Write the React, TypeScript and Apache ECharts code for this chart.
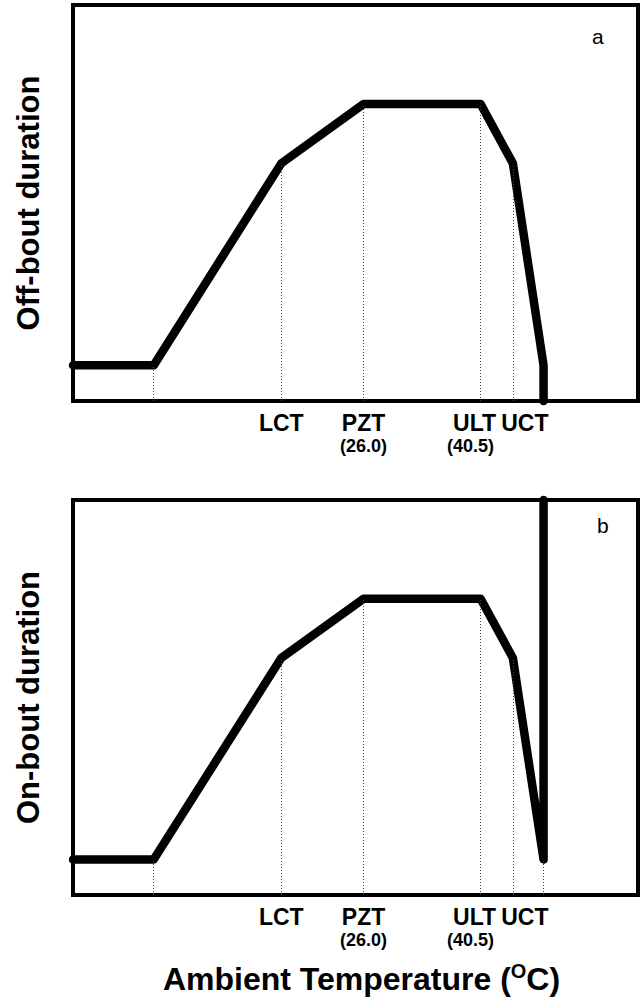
import React, { useEffect, useRef } from 'react';
import * as echarts from 'echarts';

// Threshold temperatures (°C) marked on the x axis
const tickValues = [15.8, 26.0, 40.5, 44.5];
const tickNames = ['LCT', 'PZT', 'ULT', 'UCT'];
const tickSubs = ['', '(26.0)', '(40.5)', ''];

// Panel a: off-bout duration (relative units) vs ambient temperature
const offBoutTemp = [-10, 0, 15.8, 26.0, 40.5, 44.5, 48.3, 48.3];
const offBoutDur = [9, 9, 60, 75, 75, 60, 9, 0];

// Panel b: on-bout duration (relative units) vs ambient temperature
const onBoutTemp = [-10, 0, 15.8, 26.0, 40.5, 44.5, 48.3, 48.3];
const onBoutDur = [9, 9, 60, 75, 75, 60, 9, 100];

// Dotted drop lines from the x axis to the curve
const offDropTemp = [0, 15.8, 26.0, 40.5, 44.5];
const offDropDur = [9, 60, 75, 75, 60];
const onDropTemp = [0, 15.8, 26.0, 40.5, 44.5, 48.3];
const onDropDur = [9, 60, 75, 75, 60, 9];

const FONT = '"Liberation Sans", Arial, Helvetica, sans-serif';

// ULT and UCT labels sit close together; list UCT first so that ECharts'
// first/last-label overlap check never compares these two neighbours.
const labelValues = [tickValues[3], tickValues[0], tickValues[1], tickValues[2]];

// rich-text style keys per tick (name line, sub line)
const nameStyleKeys = ['n', 'n', 'nl', 'nr'];
const subStyleKeys = ['v', 'v', 'vl', 'v'];

function labelFormatter(val: number): string {
  const i = tickValues.findIndex((t) => Math.abs(t - val) < 1e-6);
  if (i < 0) return '';
  const ns = nameStyleKeys[i];
  const ss = subStyleKeys[i];
  return tickSubs[i]
    ? `{${ns}|${tickNames[i]}}\n{${ss}|${tickSubs[i]}}`
    : `{${ns}|${tickNames[i]}}`;
}

const nameBase = { fontSize: 23, fontWeight: 'bold', fontFamily: FONT, color: '#000', lineHeight: 24 };
const subBase = { fontSize: 18, fontWeight: 'bold', fontFamily: FONT, color: '#000', lineHeight: 22 };
const labelRich = {
  n: { ...nameBase },
  nl: { ...nameBase, padding: [0, 12, 0, 0] },
  nr: { ...nameBase, padding: [0, 0, 0, 24] },
  v: { ...subBase },
  vl: { ...subBase, padding: [0, 20, 0, 0] },
};

function makeXAxis(gridIndex: number, withTitle: boolean) {
  const ax: any = {
    gridIndex,
    type: 'value',
    min: -10,
    max: 60,
    axisLine: { show: false },
    axisTick: { show: false },
    splitLine: { show: false },
    axisLabel: {
      customValues: labelValues,
      interval: 0,
      hideOverlap: false,
      showMinLabel: true,
      showMaxLabel: true,
      margin: 10,
      formatter: labelFormatter,
      rich: labelRich,
    },
  };
  if (withTitle) {
    ax.name = '{a|Ambient Temperature (}{s|O}{a|C)}';
    ax.nameLocation = 'middle';
    ax.nameGap = 66;
    ax.nameTextStyle = {
      padding: [0, 0, 0, 12],
      rich: {
        a: { fontSize: 32, fontWeight: 'bold', fontFamily: FONT, color: '#000', lineHeight: 36 },
        s: { fontSize: 20, fontWeight: 'bold', fontFamily: FONT, color: '#000', verticalAlign: 'top', lineHeight: 18 },
      },
    };
  }
  return ax;
}

function makeYAxis(gridIndex: number, name: string) {
  return {
    gridIndex,
    type: 'value',
    min: 0,
    max: 100,
    axisLine: { show: false },
    axisTick: { show: false },
    splitLine: { show: false },
    axisLabel: { show: false },
    name,
    nameLocation: 'middle',
    nameGap: 29,
    nameTextStyle: { fontSize: 31, fontWeight: 'bold', fontFamily: FONT, color: '#000' },
  };
}

function makeSeries(idx: number, xs: number[], ys: number[], dx: number[], dy: number[]) {
  return {
    type: 'line',
    xAxisIndex: idx,
    yAxisIndex: idx,
    data: xs.map((x, k) => [x, ys[k]]),
    symbol: 'none',
    showSymbol: false,
    clip: false,
    lineStyle: { color: '#000', width: 8.5, cap: 'round', join: 'round' },
    markLine: {
      silent: true,
      symbol: ['none', 'none'],
      label: { show: false },
      lineStyle: { color: '#444', width: 1, type: [1, 2] },
      data: dx.map((x, k) => [{ coord: [x, 0] }, { coord: [x, dy[k]] }]),
    },
    z: 3,
  };
}

export default function App() {
  const ref = useRef<HTMLDivElement>(null);
  useEffect(() => {
    if (!ref.current) return;
    const chart = echarts.init(ref.current, null, { renderer: 'svg' });
    const gridBase = {
      left: 73,
      right: 3,
      show: true,
      borderColor: '#000',
      borderWidth: 4,
      backgroundColor: 'transparent',
      containLabel: false,
      outerBoundsMode: 'none',
    };
    chart.setOption({
      animation: false,
      backgroundColor: '#fff',
      textStyle: { fontFamily: FONT },
      grid: [
        { ...gridBase, top: 5, height: 396 },
        { ...gridBase, top: 500, height: 395 },
      ],
      xAxis: [makeXAxis(0, false), makeXAxis(1, true)],
      yAxis: [makeYAxis(0, 'Off-bout duration'), makeYAxis(1, 'On-bout duration')],
      series: [
        makeSeries(0, offBoutTemp, offBoutDur, offDropTemp, offDropDur),
        makeSeries(1, onBoutTemp, onBoutDur, onDropTemp, onDropDur),
      ],
      graphic: [
        { type: 'text', left: 592, top: 26, style: { text: 'a', fontSize: 21, fontFamily: FONT, fill: '#000' } },
        { type: 'text', left: 597, top: 515, style: { text: 'b', fontSize: 21, fontFamily: FONT, fill: '#000' } },
      ],
    });
    return () => chart.dispose();
  }, []);
  return (
    <div
      ref={ref}
      style={{ position: 'fixed', left: 0, top: 0, width: 641, height: 1002, background: '#fff' }}
    />
  );
}
